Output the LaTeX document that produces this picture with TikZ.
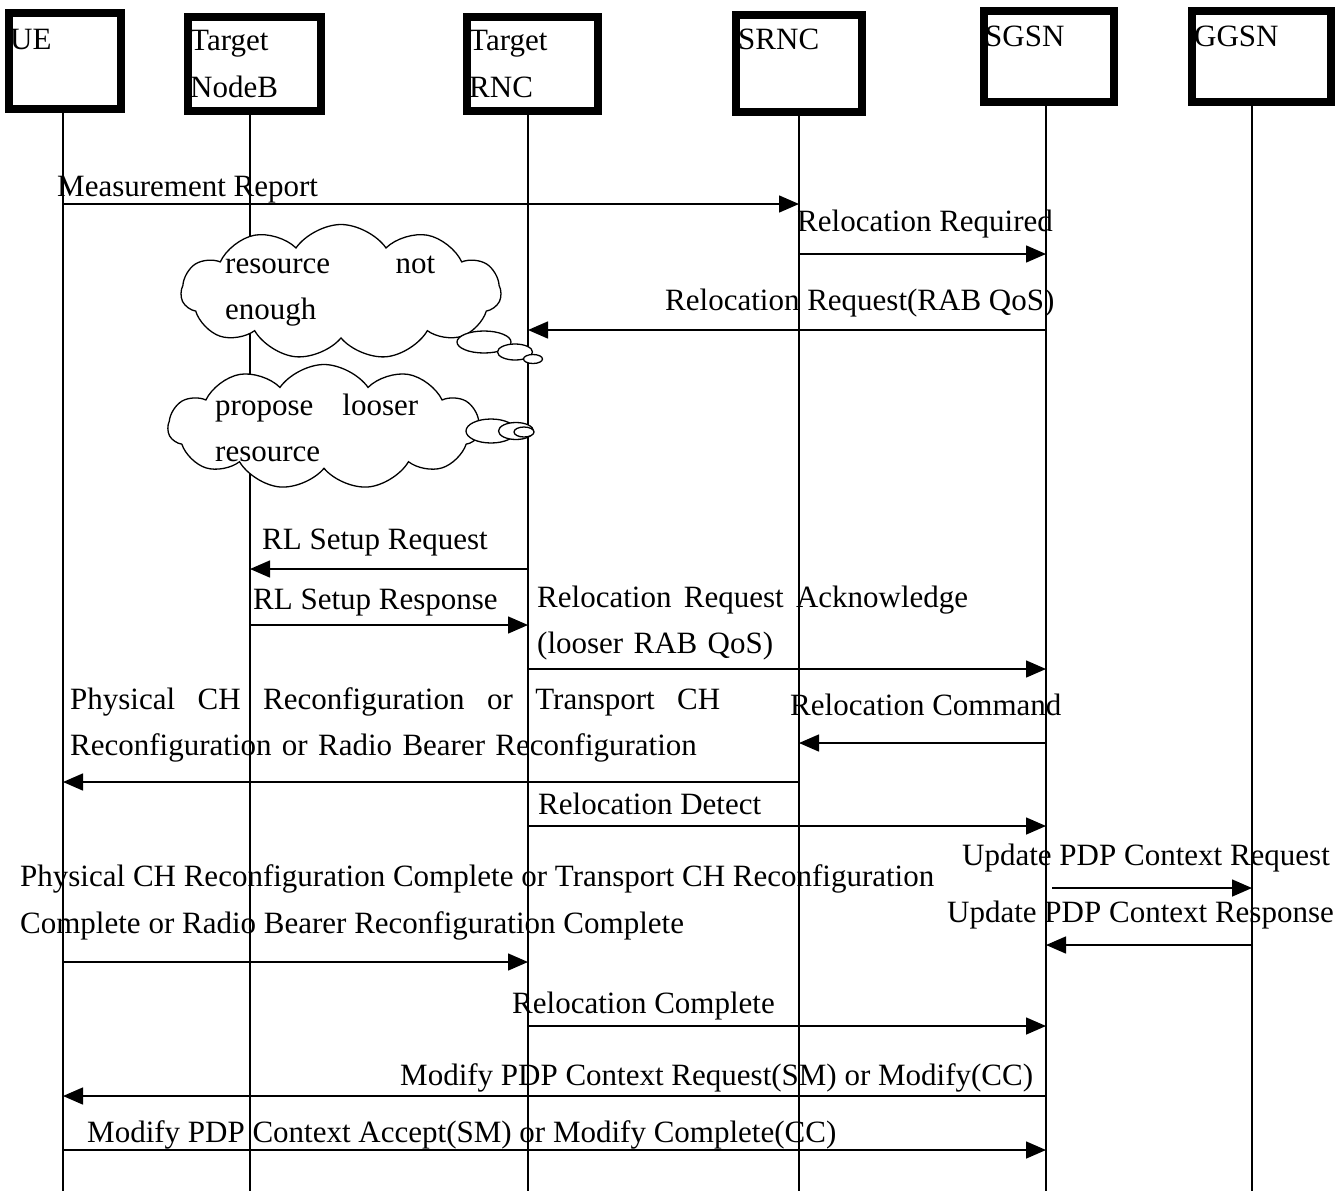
\documentclass[tikz,border=0pt]{standalone}
\usepackage{fontspec}
\setmainfont{Liberation Serif}
\usetikzlibrary{arrows.meta,shapes.symbols,shapes.geometric}

\tikzset{
    box/.style={draw,line width=8pt,inner sep=0pt},
    life/.style={line width=1.5pt},
    msg/.style={line width=1.5pt,-{Triangle[length=20pt,width=17pt]}},
    txt/.style={anchor=base west,inner sep=0pt},
    thought/.style={draw,fill=white,line width=1.3pt,cloud,cloud puffs=11,cloud puff arc=110},
    bubble/.style={draw,fill=white,ellipse,line width=1.3pt,inner sep=0pt},
}

\begin{document}
\begin{tikzpicture}[x=1pt,y=-1pt,font=\fontsize{31}{46.5}\selectfont]
    \useasboundingbox (0,0) rectangle (1343,1191);
    \coordinate (bot) at (0,1191);

    % entities
    \node[box,minimum width=112pt,minimum height=96pt] (ue) at (65,61) {};
    \node[box,minimum width=133pt,minimum height=94pt] (nodeb) at (254.5,64) {};
    \node[box,minimum width=131pt,minimum height=94pt] (rnc) at (532.5,64) {};
    \node[box,minimum width=126pt,minimum height=97pt] (srnc) at (799,63.5) {};
    \node[box,minimum width=130pt,minimum height=91pt] (sgsn) at (1049,56.5) {};
    \node[box,minimum width=139pt,minimum height=91pt] (ggsn) at (1261.5,56.5) {};
    \node[txt] (ue-n) at (10,49) {UE};
    \node[txt,align=left] (nodeb-n) at (190,97) {Target\\NodeB};
    \node[txt,align=left] (rnc-n) at (469,97) {Target\\RNC};
    \node[txt] (srnc-n) at (738,49) {SRNC};
    \node[txt] (sgsn-n) at (985,46) {SGSN};
    \node[txt] (ggsn-n) at (1194,46) {GGSN};

    % lifelines
    \coordinate (ue-l) at (63,112);
    \coordinate (nodeb-l) at (250,114);
    \coordinate (rnc-l) at (528,114);
    \coordinate (srnc-l) at (799,115);
    \coordinate (sgsn-l) at (1046,105);
    \coordinate (ggsn-l) at (1252,105);
    \foreach \n in {ue,nodeb,rnc,srnc,sgsn,ggsn}
        \draw[life] (\n-l) -- (\n-l |- bot);

    % thoughts
    \node[thought,minimum width=312pt,minimum height=125pt] (c2) at (324,427) {};
    \node[thought,minimum width=320pt,minimum height=135pt] (c1) at (341,292) {};
    \node[bubble,minimum width=54pt,minimum height=22pt] (b1) at (484,342) {};
    \node[bubble,minimum width=35pt,minimum height=16pt] (b2) at (515,352) {};
    \node[bubble,minimum width=19pt,minimum height=9pt] (b3) at (533,359) {};
    \node[bubble,minimum width=50pt,minimum height=24pt] (b4) at (491,431) {};
    \node[bubble,minimum width=35pt,minimum height=17pt] (b5) at (516,431) {};
    \node[bubble,minimum width=20pt,minimum height=10pt] (b6) at (524,432) {};
    \node[txt,text width=210pt,align=left] (t1) at (225,273) {resource\hfill not\\enough};
    \node[txt,text width=203pt,align=left] (t2) at (215,415) {propose\hfill looser\\resource};

    % messages
    \node[txt] (m1) at (57,196) {Measurement Report};
    \coordinate (a1) at (0,204);
    \draw[msg] (ue-l |- a1) -- (srnc-l |- a1);

    \node[txt] (m2) at (797,231) {Relocation Required};
    \coordinate (a2) at (0,254);
    \draw[msg] (srnc-l |- a2) -- (sgsn-l |- a2);

    \node[txt] (m3) at (665,310) {Relocation Request(RAB QoS)};
    \coordinate (a3) at (0,330);
    \draw[msg] (sgsn-l |- a3) -- (rnc-l |- a3);

    \node[txt] (m4) at (262,549) {RL Setup Request};
    \coordinate (a4) at (0,569);
    \draw[msg] (rnc-l |- a4) -- (nodeb-l |- a4);

    \node[txt] (m5) at (253,609) {RL Setup Response};
    \coordinate (a5) at (0,625);
    \draw[msg] (nodeb-l |- a5) -- (rnc-l |- a5);

    \node[txt,text width=431pt,align=left] (m6) at (537,607) {Relocation\hfill Request\hfill Acknowledge\\(looser RAB QoS)};
    \coordinate (a6) at (0,669);
    \draw[msg] (rnc-l |- a6) -- (sgsn-l |- a6);

    \node[txt,text width=650pt,align=left] (m7) at (70,709) {Physical\hfill CH\hfill Reconfiguration\hfill or\hfill Transport\hfill CH\\Reconfiguration or Radio Bearer Reconfiguration};
    \coordinate (a7) at (0,782);
    \draw[msg] (srnc-l |- a7) -- (ue-l |- a7);

    \node[txt] (m8) at (790,715) {Relocation Command};
    \coordinate (a8) at (0,743);
    \draw[msg] (sgsn-l |- a8) -- (srnc-l |- a8);

    \node[txt] (m9) at (538,814) {Relocation Detect};
    \coordinate (a9) at (0,826);
    \draw[msg] (rnc-l |- a9) -- (sgsn-l |- a9);

    \node[txt] (m10) at (962,865) {Update PDP Context Request};
    \coordinate (a10) at (0,888);
    \draw[msg] ([xshift=6pt]sgsn-l |- a10) -- (ggsn-l |- a10);

    \node[txt] (m11) at (947,922) {Update PDP Context Response};
    \coordinate (a11) at (0,945);
    \draw[msg] (ggsn-l |- a11) -- (sgsn-l |- a11);

    \node[txt,align=left] (m12) at (20,933) {Physical CH Reconfiguration Complete or Transport CH Reconfiguration\\Complete or Radio Bearer Reconfiguration Complete};
    \coordinate (a12) at (0,962);
    \draw[msg] (ue-l |- a12) -- (rnc-l |- a12);

    \node[txt] (m13) at (512,1013) {Relocation Complete};
    \coordinate (a13) at (0,1026);
    \draw[msg] (rnc-l |- a13) -- (sgsn-l |- a13);

    \node[txt] (m14) at (400,1085) {Modify PDP Context Request(SM) or Modify(CC)};
    \coordinate (a14) at (0,1096);
    \draw[msg] (sgsn-l |- a14) -- (ue-l |- a14);

    \node[txt] (m15) at (87,1142) {Modify PDP Context Accept(SM) or Modify Complete(CC)};
    \coordinate (a15) at (0,1150);
    \draw[msg] (ue-l |- a15) -- (sgsn-l |- a15);
\end{tikzpicture}
\end{document}
